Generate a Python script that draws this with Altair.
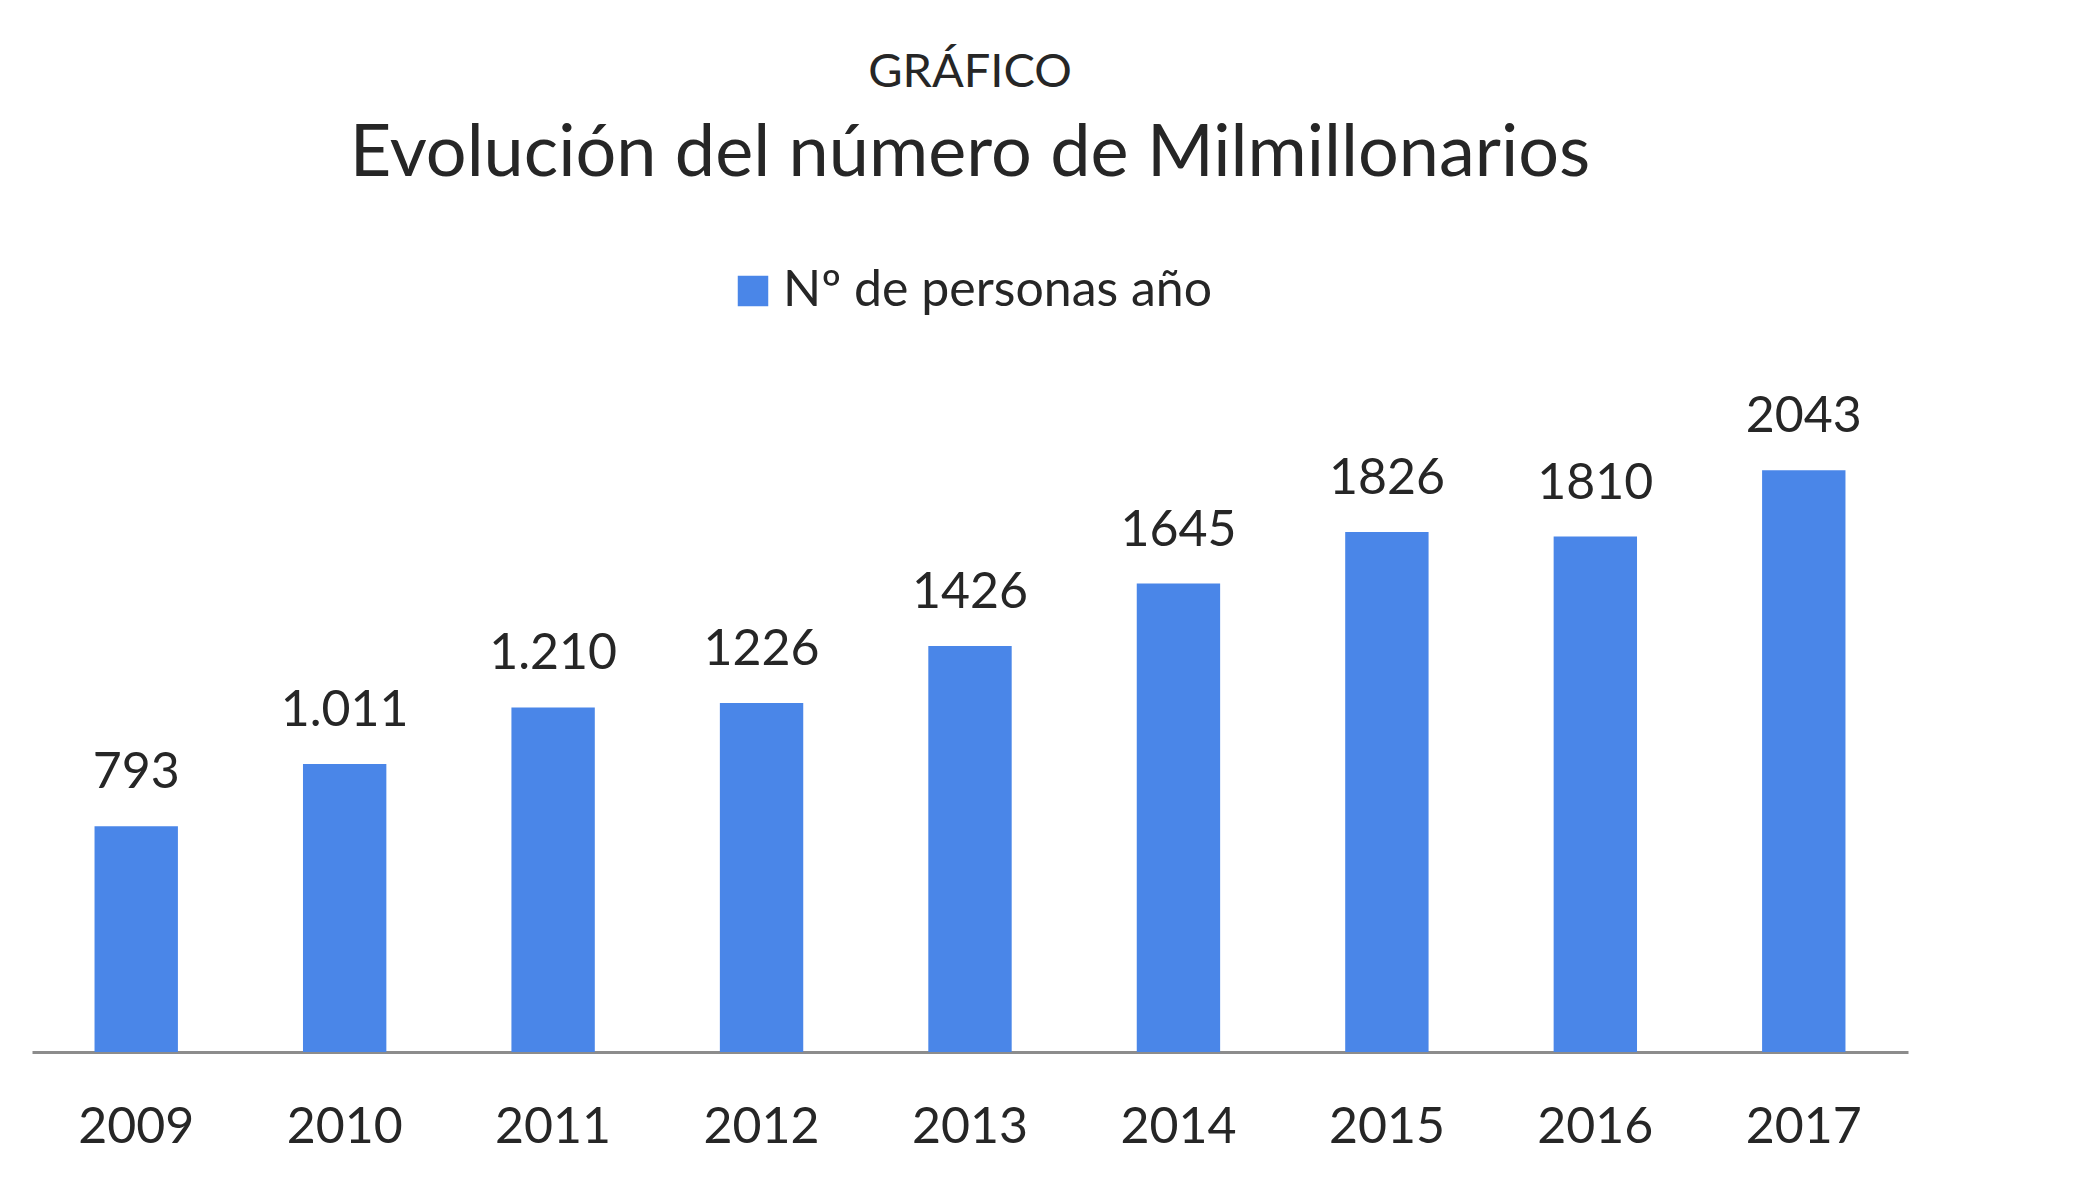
import altair as alt
import pandas as pd

years = ["2009", "2010", "2011", "2012", "2013", "2014", "2015", "2016", "2017"]
values = [793, 1011, 1210, 1226, 1426, 1645, 1826, 1810, 2043]
labels = ["793", "1.011", "1.210", "1226", "1426", "1645", "1826", "1810", "2043"]
series_name = "Nº de personas año"

df = pd.DataFrame({
    "year": years,
    "value": values,
    "label": labels,
    "serie": [series_name] * len(years),
})

FONT = "Lato"
BLUE = "#4A86E8"
TEXT = "#262626"

x_enc = alt.X(
    "year:N",
    sort=years,
    scale=alt.Scale(paddingInner=0.6, paddingOuter=0.3),
    axis=alt.Axis(
        title=None,
        labelAngle=0,
        ticks=False,
        tickSize=0,
        labelPadding=90,
        labelBaseline="alphabetic",
        labelFont=FONT,
        labelFontSize=50,
        labelColor=TEXT,
        domainColor="#8C8C8C",
        domainWidth=3,
        grid=False,
    ),
)
y_enc = alt.Y("value:Q", scale=alt.Scale(domain=[0, 2100], nice=False, zero=True), axis=None)

bars = alt.Chart(df).mark_bar(color=BLUE).encode(
    x=x_enc,
    y=y_enc,
    color=alt.Color(
        "serie:N",
        scale=alt.Scale(domain=[series_name], range=[BLUE]),
        legend=alt.Legend(
            title=None,
            orient="none",
            legendX=696,
            legendY=-188,
            symbolType="square",
            symbolSize=930,
            symbolStrokeWidth=0,
            labelFont=FONT,
            labelFontSize=50,
            labelColor=TEXT,
            labelOffset=5,
            labelLimit=0,
            padding=0,
        ),
    ),
)

text = alt.Chart(df).mark_text(
    baseline="alphabetic", dy=-38, font=FONT, fontSize=50, color=TEXT
).encode(
    x=alt.X("year:N", sort=years),
    y=y_enc,
    text="label:N",
)

chart = (
    alt.layer(bars, text)
    .properties(
        width=1876,
        height=598,
        title=alt.Title(
            text="GRÁFICO",
            subtitle="Evolución del número de Milmillonarios",
            font=FONT,
            fontSize=47,
            fontWeight="normal",
            color=TEXT,
            subtitleFont=FONT,
            subtitleFontSize=72,
            subtitleFontWeight="normal",
            subtitleColor=TEXT,
            subtitlePadding=22,
            anchor="middle",
            offset=75,
        ),
        autosize=alt.AutoSizeParams(type="none"),
        padding={"left": 24, "top": 446, "right": 150, "bottom": 130},
        background="white",
    )
    .configure_view(stroke=None)
)

chart.save("out.html", embed_options={"renderer": "svg", "actions": False})
